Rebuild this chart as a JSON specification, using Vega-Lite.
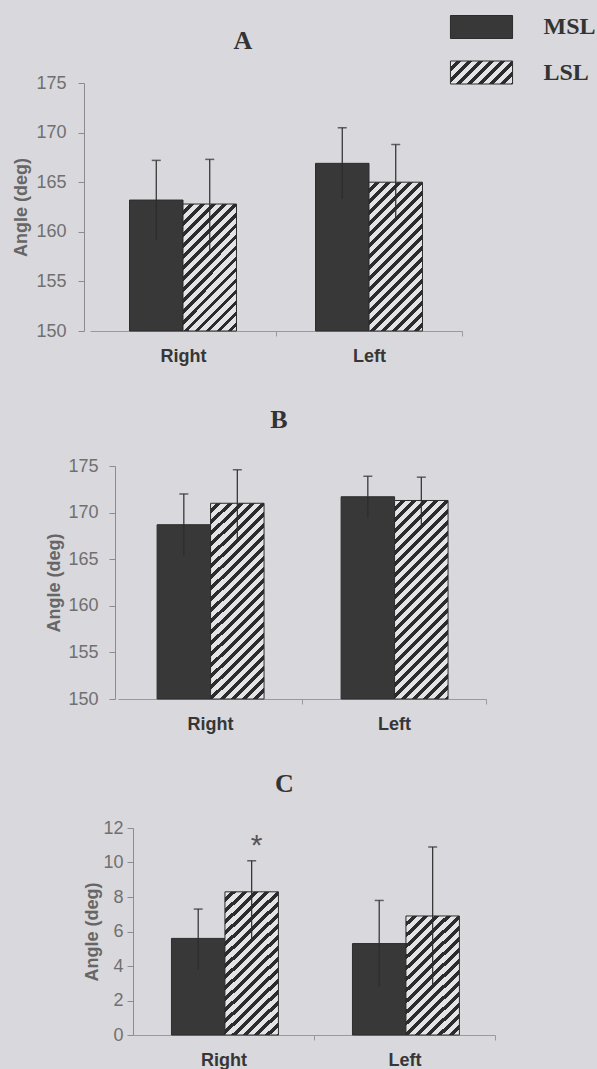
{
  "$schema": "https://vega.github.io/schema/vega-lite/v6.json",
  "background": "#d9d8dc",
  "padding": {"left": 12, "top": 15, "right": 0, "bottom": 0},
  "bounds": "flush",
  "spacing": 129,
  "params": [
    {"name": "hatchLegend", "value": {"gradient": "linear", "x1": 0, "y1": 0, "x2": 1.2462, "y2": 0.4616, "stops": [
      {"offset": 0, "color": "#e4e3e7"}, {"offset": 0.06875, "color": "#e4e3e7"}, {"offset": 0.06875, "color": "#2c2c2c"}, {"offset": 0.125, "color": "#2c2c2c"},
      {"offset": 0.125, "color": "#e4e3e7"}, {"offset": 0.19375, "color": "#e4e3e7"}, {"offset": 0.19375, "color": "#2c2c2c"}, {"offset": 0.25, "color": "#2c2c2c"},
      {"offset": 0.25, "color": "#e4e3e7"}, {"offset": 0.31875, "color": "#e4e3e7"}, {"offset": 0.31875, "color": "#2c2c2c"}, {"offset": 0.375, "color": "#2c2c2c"},
      {"offset": 0.375, "color": "#e4e3e7"}, {"offset": 0.44375, "color": "#e4e3e7"}, {"offset": 0.44375, "color": "#2c2c2c"}, {"offset": 0.5, "color": "#2c2c2c"},
      {"offset": 0.5, "color": "#e4e3e7"}, {"offset": 0.56875, "color": "#e4e3e7"}, {"offset": 0.56875, "color": "#2c2c2c"}, {"offset": 0.625, "color": "#2c2c2c"},
      {"offset": 0.625, "color": "#e4e3e7"}, {"offset": 0.69375, "color": "#e4e3e7"}, {"offset": 0.69375, "color": "#2c2c2c"}, {"offset": 0.75, "color": "#2c2c2c"},
      {"offset": 0.75, "color": "#e4e3e7"}, {"offset": 0.81875, "color": "#e4e3e7"}, {"offset": 0.81875, "color": "#2c2c2c"}, {"offset": 0.875, "color": "#2c2c2c"},
      {"offset": 0.875, "color": "#e4e3e7"}, {"offset": 0.94375, "color": "#e4e3e7"}, {"offset": 0.94375, "color": "#2c2c2c"}, {"offset": 1, "color": "#2c2c2c"}
    ]}}
  ],
  "config": {
    "view": {"stroke": null},
    "axis": {"grid": false},
    "axisX": {"labelFont": "Liberation Sans", "labelFontSize": 18, "labelFontWeight": "bold", "labelColor": "#363636", "labelAngle": 0, "domainColor": "#9a9a9a", "tickColor": "#9a9a9a", "tickSize": 5, "labelPadding": 11},
    "axisY": {"labelFont": "Liberation Sans", "labelFontSize": 18, "labelColor": "#707070", "titleFont": "Liberation Sans", "titleFontSize": 18, "titleFontWeight": "bold", "titleColor": "#666666", "domainColor": "#8c8c8c", "tickColor": "#8c8c8c", "tickSize": 6, "labelOverlap": false}
  },
  "resolve": {"scale": {"fill": "independent"}, "legend": {"fill": "independent"}},
  "data": {"values": [
    {"panel": "A", "id": "A-R-MSL", "side": "Right", "group": "MSL", "mean": 163.2, "lo": 159.2, "hi": 167.2},
    {"panel": "A", "id": "A-R-LSL", "side": "Right", "group": "LSL", "mean": 162.8, "lo": 157.9, "hi": 167.3},
    {"panel": "A", "id": "A-L-MSL", "side": "Left", "group": "MSL", "mean": 166.9, "lo": 163.3, "hi": 170.5},
    {"panel": "A", "id": "A-L-LSL", "side": "Left", "group": "LSL", "mean": 165.0, "lo": 161.1, "hi": 168.8},
    {"panel": "B", "id": "B-R-MSL", "side": "Right", "group": "MSL", "mean": 168.7, "lo": 165.4, "hi": 172.0},
    {"panel": "B", "id": "B-R-LSL", "side": "Right", "group": "LSL", "mean": 171.0, "lo": 166.9, "hi": 174.6},
    {"panel": "B", "id": "B-L-MSL", "side": "Left", "group": "MSL", "mean": 171.7, "lo": 169.5, "hi": 173.9},
    {"panel": "B", "id": "B-L-LSL", "side": "Left", "group": "LSL", "mean": 171.3, "lo": 168.7, "hi": 173.8},
    {"panel": "C", "id": "C-R-MSL", "side": "Right", "group": "MSL", "mean": 5.6, "lo": 3.8, "hi": 7.3},
    {"panel": "C", "id": "C-R-LSL", "side": "Right", "group": "LSL", "mean": 8.3, "lo": 5.6, "hi": 10.1, "note": "*"},
    {"panel": "C", "id": "C-L-MSL", "side": "Left", "group": "MSL", "mean": 5.3, "lo": 2.8, "hi": 7.8},
    {"panel": "C", "id": "C-L-LSL", "side": "Left", "group": "LSL", "mean": 6.9, "lo": 2.8, "hi": 10.9}
  ]},
  "vconcat": [
    {
      "transform": [{"filter": "datum.panel === 'A'"}],
      "width": 378,
      "height": 254,
      "title": {"text": "A", "font": "Liberation Serif", "fontSize": 26, "fontWeight": "bold", "color": "#333333", "anchor": "middle", "frame": "group", "offset": -60, "dx": -30, "baseline": "alphabetic"},
      "encoding": {
        "x": {"field": "side", "type": "nominal", "sort": ["Right", "Left"], "scale": {"range": [6, 378], "paddingInner": 0.425, "paddingOuter": 0.2125}, "axis": {"title": null, "tickOffset": 93, "labelOffset": -93}},
        "xOffset": {"field": "group", "type": "nominal", "sort": ["MSL", "LSL"], "scale": {"paddingInner": 0, "paddingOuter": 0}}
      },
      "layer": [
        {
          "mark": {"type": "bar", "stroke": "#2c2c2c", "strokeWidth": 1},
          "encoding": {
            "y": {"field": "mean", "type": "quantitative", "title": "Angle (deg)", "scale": {"domain": [150, 175], "range": [254, 6], "nice": false, "zero": false}, "axis": {"values": [150, 155, 160, 165, 170, 175], "tickCount": 6, "labelPadding": 12, "titlePadding": 5, "offset": 0}},
            "y2": {"datum": 150},
            "fill": {
              "field": "group", "type": "nominal",
              "scale": {"domain": ["MSL", "LSL"], "range": ["#383838", {"expr": "hatchLegend"}]},
              "legend": {"orient": "none", "legendX": 385.5, "legendY": -62, "title": null, "padding": 0, "symbolType": "M-2.7,-1H2.7V1H-2.7Z", "symbolSize": 529, "symbolStrokeColor": "#2c2c2c", "symbolStrokeWidth": 1, "symbolOpacity": 1, "labelFont": "Liberation Serif", "labelFontSize": 24, "labelFontWeight": "bold", "labelColor": "#333333", "labelOffset": 50, "rowPadding": 17.5},
              "condition": [
                {"test": "datum.id === 'A-R-LSL'", "value": {"gradient": "linear", "x1": 0, "y1": 0, "x2": 0.7437, "y2": 1.7655, "stops": [
                  {"offset": 0, "color": "#e4e3e7"}, {"offset": 0.022917, "color": "#e4e3e7"}, {"offset": 0.022917, "color": "#2c2c2c"}, {"offset": 0.041667, "color": "#2c2c2c"},
                  {"offset": 0.041667, "color": "#e4e3e7"}, {"offset": 0.064583, "color": "#e4e3e7"}, {"offset": 0.064583, "color": "#2c2c2c"}, {"offset": 0.083333, "color": "#2c2c2c"},
                  {"offset": 0.083333, "color": "#e4e3e7"}, {"offset": 0.10625, "color": "#e4e3e7"}, {"offset": 0.10625, "color": "#2c2c2c"}, {"offset": 0.125, "color": "#2c2c2c"},
                  {"offset": 0.125, "color": "#e4e3e7"}, {"offset": 0.147917, "color": "#e4e3e7"}, {"offset": 0.147917, "color": "#2c2c2c"}, {"offset": 0.166667, "color": "#2c2c2c"},
                  {"offset": 0.166667, "color": "#e4e3e7"}, {"offset": 0.189583, "color": "#e4e3e7"}, {"offset": 0.189583, "color": "#2c2c2c"}, {"offset": 0.208333, "color": "#2c2c2c"},
                  {"offset": 0.208333, "color": "#e4e3e7"}, {"offset": 0.23125, "color": "#e4e3e7"}, {"offset": 0.23125, "color": "#2c2c2c"}, {"offset": 0.25, "color": "#2c2c2c"},
                  {"offset": 0.25, "color": "#e4e3e7"}, {"offset": 0.272917, "color": "#e4e3e7"}, {"offset": 0.272917, "color": "#2c2c2c"}, {"offset": 0.291667, "color": "#2c2c2c"},
                  {"offset": 0.291667, "color": "#e4e3e7"}, {"offset": 0.314583, "color": "#e4e3e7"}, {"offset": 0.314583, "color": "#2c2c2c"}, {"offset": 0.333333, "color": "#2c2c2c"},
                  {"offset": 0.333333, "color": "#e4e3e7"}, {"offset": 0.35625, "color": "#e4e3e7"}, {"offset": 0.35625, "color": "#2c2c2c"}, {"offset": 0.375, "color": "#2c2c2c"},
                  {"offset": 0.375, "color": "#e4e3e7"}, {"offset": 0.397917, "color": "#e4e3e7"}, {"offset": 0.397917, "color": "#2c2c2c"}, {"offset": 0.416667, "color": "#2c2c2c"},
                  {"offset": 0.416667, "color": "#e4e3e7"}, {"offset": 0.439583, "color": "#e4e3e7"}, {"offset": 0.439583, "color": "#2c2c2c"}, {"offset": 0.458333, "color": "#2c2c2c"},
                  {"offset": 0.458333, "color": "#e4e3e7"}, {"offset": 0.48125, "color": "#e4e3e7"}, {"offset": 0.48125, "color": "#2c2c2c"}, {"offset": 0.5, "color": "#2c2c2c"},
                  {"offset": 0.5, "color": "#e4e3e7"}, {"offset": 0.522917, "color": "#e4e3e7"}, {"offset": 0.522917, "color": "#2c2c2c"}, {"offset": 0.541667, "color": "#2c2c2c"},
                  {"offset": 0.541667, "color": "#e4e3e7"}, {"offset": 0.564583, "color": "#e4e3e7"}, {"offset": 0.564583, "color": "#2c2c2c"}, {"offset": 0.583333, "color": "#2c2c2c"},
                  {"offset": 0.583333, "color": "#e4e3e7"}, {"offset": 0.60625, "color": "#e4e3e7"}, {"offset": 0.60625, "color": "#2c2c2c"}, {"offset": 0.625, "color": "#2c2c2c"},
                  {"offset": 0.625, "color": "#e4e3e7"}, {"offset": 0.647917, "color": "#e4e3e7"}, {"offset": 0.647917, "color": "#2c2c2c"}, {"offset": 0.666667, "color": "#2c2c2c"},
                  {"offset": 0.666667, "color": "#e4e3e7"}, {"offset": 0.689583, "color": "#e4e3e7"}, {"offset": 0.689583, "color": "#2c2c2c"}, {"offset": 0.708333, "color": "#2c2c2c"},
                  {"offset": 0.708333, "color": "#e4e3e7"}, {"offset": 0.73125, "color": "#e4e3e7"}, {"offset": 0.73125, "color": "#2c2c2c"}, {"offset": 0.75, "color": "#2c2c2c"},
                  {"offset": 0.75, "color": "#e4e3e7"}, {"offset": 0.772917, "color": "#e4e3e7"}, {"offset": 0.772917, "color": "#2c2c2c"}, {"offset": 0.791667, "color": "#2c2c2c"},
                  {"offset": 0.791667, "color": "#e4e3e7"}, {"offset": 0.814583, "color": "#e4e3e7"}, {"offset": 0.814583, "color": "#2c2c2c"}, {"offset": 0.833333, "color": "#2c2c2c"},
                  {"offset": 0.833333, "color": "#e4e3e7"}, {"offset": 0.85625, "color": "#e4e3e7"}, {"offset": 0.85625, "color": "#2c2c2c"}, {"offset": 0.875, "color": "#2c2c2c"},
                  {"offset": 0.875, "color": "#e4e3e7"}, {"offset": 0.897917, "color": "#e4e3e7"}, {"offset": 0.897917, "color": "#2c2c2c"}, {"offset": 0.916667, "color": "#2c2c2c"},
                  {"offset": 0.916667, "color": "#e4e3e7"}, {"offset": 0.939583, "color": "#e4e3e7"}, {"offset": 0.939583, "color": "#2c2c2c"}, {"offset": 0.958333, "color": "#2c2c2c"},
                  {"offset": 0.958333, "color": "#e4e3e7"}, {"offset": 0.98125, "color": "#e4e3e7"}, {"offset": 0.98125, "color": "#2c2c2c"}, {"offset": 1, "color": "#2c2c2c"}
                ]}},
                {"test": "datum.id === 'A-L-LSL'", "value": {"gradient": "linear", "x1": 0, "y1": 0, "x2": 0.5649, "y2": 1.5711, "stops": [
                  {"offset": 0, "color": "#e4e3e7"}, {"offset": 0.022917, "color": "#e4e3e7"}, {"offset": 0.022917, "color": "#2c2c2c"}, {"offset": 0.041667, "color": "#2c2c2c"},
                  {"offset": 0.041667, "color": "#e4e3e7"}, {"offset": 0.064583, "color": "#e4e3e7"}, {"offset": 0.064583, "color": "#2c2c2c"}, {"offset": 0.083333, "color": "#2c2c2c"},
                  {"offset": 0.083333, "color": "#e4e3e7"}, {"offset": 0.10625, "color": "#e4e3e7"}, {"offset": 0.10625, "color": "#2c2c2c"}, {"offset": 0.125, "color": "#2c2c2c"},
                  {"offset": 0.125, "color": "#e4e3e7"}, {"offset": 0.147917, "color": "#e4e3e7"}, {"offset": 0.147917, "color": "#2c2c2c"}, {"offset": 0.166667, "color": "#2c2c2c"},
                  {"offset": 0.166667, "color": "#e4e3e7"}, {"offset": 0.189583, "color": "#e4e3e7"}, {"offset": 0.189583, "color": "#2c2c2c"}, {"offset": 0.208333, "color": "#2c2c2c"},
                  {"offset": 0.208333, "color": "#e4e3e7"}, {"offset": 0.23125, "color": "#e4e3e7"}, {"offset": 0.23125, "color": "#2c2c2c"}, {"offset": 0.25, "color": "#2c2c2c"},
                  {"offset": 0.25, "color": "#e4e3e7"}, {"offset": 0.272917, "color": "#e4e3e7"}, {"offset": 0.272917, "color": "#2c2c2c"}, {"offset": 0.291667, "color": "#2c2c2c"},
                  {"offset": 0.291667, "color": "#e4e3e7"}, {"offset": 0.314583, "color": "#e4e3e7"}, {"offset": 0.314583, "color": "#2c2c2c"}, {"offset": 0.333333, "color": "#2c2c2c"},
                  {"offset": 0.333333, "color": "#e4e3e7"}, {"offset": 0.35625, "color": "#e4e3e7"}, {"offset": 0.35625, "color": "#2c2c2c"}, {"offset": 0.375, "color": "#2c2c2c"},
                  {"offset": 0.375, "color": "#e4e3e7"}, {"offset": 0.397917, "color": "#e4e3e7"}, {"offset": 0.397917, "color": "#2c2c2c"}, {"offset": 0.416667, "color": "#2c2c2c"},
                  {"offset": 0.416667, "color": "#e4e3e7"}, {"offset": 0.439583, "color": "#e4e3e7"}, {"offset": 0.439583, "color": "#2c2c2c"}, {"offset": 0.458333, "color": "#2c2c2c"},
                  {"offset": 0.458333, "color": "#e4e3e7"}, {"offset": 0.48125, "color": "#e4e3e7"}, {"offset": 0.48125, "color": "#2c2c2c"}, {"offset": 0.5, "color": "#2c2c2c"},
                  {"offset": 0.5, "color": "#e4e3e7"}, {"offset": 0.522917, "color": "#e4e3e7"}, {"offset": 0.522917, "color": "#2c2c2c"}, {"offset": 0.541667, "color": "#2c2c2c"},
                  {"offset": 0.541667, "color": "#e4e3e7"}, {"offset": 0.564583, "color": "#e4e3e7"}, {"offset": 0.564583, "color": "#2c2c2c"}, {"offset": 0.583333, "color": "#2c2c2c"},
                  {"offset": 0.583333, "color": "#e4e3e7"}, {"offset": 0.60625, "color": "#e4e3e7"}, {"offset": 0.60625, "color": "#2c2c2c"}, {"offset": 0.625, "color": "#2c2c2c"},
                  {"offset": 0.625, "color": "#e4e3e7"}, {"offset": 0.647917, "color": "#e4e3e7"}, {"offset": 0.647917, "color": "#2c2c2c"}, {"offset": 0.666667, "color": "#2c2c2c"},
                  {"offset": 0.666667, "color": "#e4e3e7"}, {"offset": 0.689583, "color": "#e4e3e7"}, {"offset": 0.689583, "color": "#2c2c2c"}, {"offset": 0.708333, "color": "#2c2c2c"},
                  {"offset": 0.708333, "color": "#e4e3e7"}, {"offset": 0.73125, "color": "#e4e3e7"}, {"offset": 0.73125, "color": "#2c2c2c"}, {"offset": 0.75, "color": "#2c2c2c"},
                  {"offset": 0.75, "color": "#e4e3e7"}, {"offset": 0.772917, "color": "#e4e3e7"}, {"offset": 0.772917, "color": "#2c2c2c"}, {"offset": 0.791667, "color": "#2c2c2c"},
                  {"offset": 0.791667, "color": "#e4e3e7"}, {"offset": 0.814583, "color": "#e4e3e7"}, {"offset": 0.814583, "color": "#2c2c2c"}, {"offset": 0.833333, "color": "#2c2c2c"},
                  {"offset": 0.833333, "color": "#e4e3e7"}, {"offset": 0.85625, "color": "#e4e3e7"}, {"offset": 0.85625, "color": "#2c2c2c"}, {"offset": 0.875, "color": "#2c2c2c"},
                  {"offset": 0.875, "color": "#e4e3e7"}, {"offset": 0.897917, "color": "#e4e3e7"}, {"offset": 0.897917, "color": "#2c2c2c"}, {"offset": 0.916667, "color": "#2c2c2c"},
                  {"offset": 0.916667, "color": "#e4e3e7"}, {"offset": 0.939583, "color": "#e4e3e7"}, {"offset": 0.939583, "color": "#2c2c2c"}, {"offset": 0.958333, "color": "#2c2c2c"},
                  {"offset": 0.958333, "color": "#e4e3e7"}, {"offset": 0.98125, "color": "#e4e3e7"}, {"offset": 0.98125, "color": "#2c2c2c"}, {"offset": 1, "color": "#2c2c2c"}
                ]}}
              ]
            }
          }
        },
        {
          "mark": {"type": "rule", "color": "#2c2c2c", "strokeWidth": 1.2},
          "encoding": {
            "y": {"field": "lo", "type": "quantitative", "title": "Angle (deg)"},
            "y2": {"field": "hi"}
          }
        },
        {
          "mark": {"type": "tick", "orient": "horizontal", "size": 9, "thickness": 1.5, "color": "#2c2c2c"},
          "encoding": {
            "y": {"field": "hi", "type": "quantitative", "title": "Angle (deg)"}
          }
        }
      ]
    },
    {
      "transform": [{"filter": "datum.panel === 'B'"}],
      "width": 402,
      "height": 239,
      "title": {"text": "B", "font": "Liberation Serif", "fontSize": 26, "fontWeight": "bold", "color": "#333333", "anchor": "middle", "frame": "group", "offset": 3, "dx": -6, "baseline": "alphabetic"},
      "encoding": {
        "x": {"field": "side", "type": "nominal", "sort": ["Right", "Left"], "scale": {"range": [34, 402], "paddingInner": 0.425, "paddingOuter": 0.2125}, "axis": {"title": null, "tickOffset": 92, "labelOffset": -92}},
        "xOffset": {"field": "group", "type": "nominal", "sort": ["MSL", "LSL"], "scale": {"paddingInner": 0, "paddingOuter": 0}}
      },
      "layer": [
        {
          "mark": {"type": "bar", "stroke": "#2c2c2c", "strokeWidth": 1},
          "encoding": {
            "y": {"field": "mean", "type": "quantitative", "title": "Angle (deg)", "scale": {"domain": [150, 175], "range": [239, 6], "nice": false, "zero": false}, "axis": {"values": [150, 155, 160, 165, 170, 175], "tickCount": 6, "labelPadding": 11, "titlePadding": 4, "offset": -31}},
            "y2": {"datum": 150},
            "fill": {
              "field": "group", "type": "nominal",
              "scale": {"domain": ["MSL", "LSL"], "range": ["#383838", "#e4e3e7"]},
              "legend": null,
              "condition": [
                {"test": "datum.id === 'B-R-LSL'", "value": {"gradient": "linear", "x1": 0, "y1": 0, "x2": 0.3398, "y2": 1.2572, "stops": [
                  {"offset": 0, "color": "#e4e3e7"}, {"offset": 0.022917, "color": "#e4e3e7"}, {"offset": 0.022917, "color": "#2c2c2c"}, {"offset": 0.041667, "color": "#2c2c2c"},
                  {"offset": 0.041667, "color": "#e4e3e7"}, {"offset": 0.064583, "color": "#e4e3e7"}, {"offset": 0.064583, "color": "#2c2c2c"}, {"offset": 0.083333, "color": "#2c2c2c"},
                  {"offset": 0.083333, "color": "#e4e3e7"}, {"offset": 0.10625, "color": "#e4e3e7"}, {"offset": 0.10625, "color": "#2c2c2c"}, {"offset": 0.125, "color": "#2c2c2c"},
                  {"offset": 0.125, "color": "#e4e3e7"}, {"offset": 0.147917, "color": "#e4e3e7"}, {"offset": 0.147917, "color": "#2c2c2c"}, {"offset": 0.166667, "color": "#2c2c2c"},
                  {"offset": 0.166667, "color": "#e4e3e7"}, {"offset": 0.189583, "color": "#e4e3e7"}, {"offset": 0.189583, "color": "#2c2c2c"}, {"offset": 0.208333, "color": "#2c2c2c"},
                  {"offset": 0.208333, "color": "#e4e3e7"}, {"offset": 0.23125, "color": "#e4e3e7"}, {"offset": 0.23125, "color": "#2c2c2c"}, {"offset": 0.25, "color": "#2c2c2c"},
                  {"offset": 0.25, "color": "#e4e3e7"}, {"offset": 0.272917, "color": "#e4e3e7"}, {"offset": 0.272917, "color": "#2c2c2c"}, {"offset": 0.291667, "color": "#2c2c2c"},
                  {"offset": 0.291667, "color": "#e4e3e7"}, {"offset": 0.314583, "color": "#e4e3e7"}, {"offset": 0.314583, "color": "#2c2c2c"}, {"offset": 0.333333, "color": "#2c2c2c"},
                  {"offset": 0.333333, "color": "#e4e3e7"}, {"offset": 0.35625, "color": "#e4e3e7"}, {"offset": 0.35625, "color": "#2c2c2c"}, {"offset": 0.375, "color": "#2c2c2c"},
                  {"offset": 0.375, "color": "#e4e3e7"}, {"offset": 0.397917, "color": "#e4e3e7"}, {"offset": 0.397917, "color": "#2c2c2c"}, {"offset": 0.416667, "color": "#2c2c2c"},
                  {"offset": 0.416667, "color": "#e4e3e7"}, {"offset": 0.439583, "color": "#e4e3e7"}, {"offset": 0.439583, "color": "#2c2c2c"}, {"offset": 0.458333, "color": "#2c2c2c"},
                  {"offset": 0.458333, "color": "#e4e3e7"}, {"offset": 0.48125, "color": "#e4e3e7"}, {"offset": 0.48125, "color": "#2c2c2c"}, {"offset": 0.5, "color": "#2c2c2c"},
                  {"offset": 0.5, "color": "#e4e3e7"}, {"offset": 0.522917, "color": "#e4e3e7"}, {"offset": 0.522917, "color": "#2c2c2c"}, {"offset": 0.541667, "color": "#2c2c2c"},
                  {"offset": 0.541667, "color": "#e4e3e7"}, {"offset": 0.564583, "color": "#e4e3e7"}, {"offset": 0.564583, "color": "#2c2c2c"}, {"offset": 0.583333, "color": "#2c2c2c"},
                  {"offset": 0.583333, "color": "#e4e3e7"}, {"offset": 0.60625, "color": "#e4e3e7"}, {"offset": 0.60625, "color": "#2c2c2c"}, {"offset": 0.625, "color": "#2c2c2c"},
                  {"offset": 0.625, "color": "#e4e3e7"}, {"offset": 0.647917, "color": "#e4e3e7"}, {"offset": 0.647917, "color": "#2c2c2c"}, {"offset": 0.666667, "color": "#2c2c2c"},
                  {"offset": 0.666667, "color": "#e4e3e7"}, {"offset": 0.689583, "color": "#e4e3e7"}, {"offset": 0.689583, "color": "#2c2c2c"}, {"offset": 0.708333, "color": "#2c2c2c"},
                  {"offset": 0.708333, "color": "#e4e3e7"}, {"offset": 0.73125, "color": "#e4e3e7"}, {"offset": 0.73125, "color": "#2c2c2c"}, {"offset": 0.75, "color": "#2c2c2c"},
                  {"offset": 0.75, "color": "#e4e3e7"}, {"offset": 0.772917, "color": "#e4e3e7"}, {"offset": 0.772917, "color": "#2c2c2c"}, {"offset": 0.791667, "color": "#2c2c2c"},
                  {"offset": 0.791667, "color": "#e4e3e7"}, {"offset": 0.814583, "color": "#e4e3e7"}, {"offset": 0.814583, "color": "#2c2c2c"}, {"offset": 0.833333, "color": "#2c2c2c"},
                  {"offset": 0.833333, "color": "#e4e3e7"}, {"offset": 0.85625, "color": "#e4e3e7"}, {"offset": 0.85625, "color": "#2c2c2c"}, {"offset": 0.875, "color": "#2c2c2c"},
                  {"offset": 0.875, "color": "#e4e3e7"}, {"offset": 0.897917, "color": "#e4e3e7"}, {"offset": 0.897917, "color": "#2c2c2c"}, {"offset": 0.916667, "color": "#2c2c2c"},
                  {"offset": 0.916667, "color": "#e4e3e7"}, {"offset": 0.939583, "color": "#e4e3e7"}, {"offset": 0.939583, "color": "#2c2c2c"}, {"offset": 0.958333, "color": "#2c2c2c"},
                  {"offset": 0.958333, "color": "#e4e3e7"}, {"offset": 0.98125, "color": "#e4e3e7"}, {"offset": 0.98125, "color": "#2c2c2c"}, {"offset": 1, "color": "#2c2c2c"}
                ]}},
                {"test": "datum.id === 'B-L-LSL'", "value": {"gradient": "linear", "x1": 0, "y1": 0, "x2": 0.3309, "y2": 1.2418, "stops": [
                  {"offset": 0, "color": "#e4e3e7"}, {"offset": 0.022917, "color": "#e4e3e7"}, {"offset": 0.022917, "color": "#2c2c2c"}, {"offset": 0.041667, "color": "#2c2c2c"},
                  {"offset": 0.041667, "color": "#e4e3e7"}, {"offset": 0.064583, "color": "#e4e3e7"}, {"offset": 0.064583, "color": "#2c2c2c"}, {"offset": 0.083333, "color": "#2c2c2c"},
                  {"offset": 0.083333, "color": "#e4e3e7"}, {"offset": 0.10625, "color": "#e4e3e7"}, {"offset": 0.10625, "color": "#2c2c2c"}, {"offset": 0.125, "color": "#2c2c2c"},
                  {"offset": 0.125, "color": "#e4e3e7"}, {"offset": 0.147917, "color": "#e4e3e7"}, {"offset": 0.147917, "color": "#2c2c2c"}, {"offset": 0.166667, "color": "#2c2c2c"},
                  {"offset": 0.166667, "color": "#e4e3e7"}, {"offset": 0.189583, "color": "#e4e3e7"}, {"offset": 0.189583, "color": "#2c2c2c"}, {"offset": 0.208333, "color": "#2c2c2c"},
                  {"offset": 0.208333, "color": "#e4e3e7"}, {"offset": 0.23125, "color": "#e4e3e7"}, {"offset": 0.23125, "color": "#2c2c2c"}, {"offset": 0.25, "color": "#2c2c2c"},
                  {"offset": 0.25, "color": "#e4e3e7"}, {"offset": 0.272917, "color": "#e4e3e7"}, {"offset": 0.272917, "color": "#2c2c2c"}, {"offset": 0.291667, "color": "#2c2c2c"},
                  {"offset": 0.291667, "color": "#e4e3e7"}, {"offset": 0.314583, "color": "#e4e3e7"}, {"offset": 0.314583, "color": "#2c2c2c"}, {"offset": 0.333333, "color": "#2c2c2c"},
                  {"offset": 0.333333, "color": "#e4e3e7"}, {"offset": 0.35625, "color": "#e4e3e7"}, {"offset": 0.35625, "color": "#2c2c2c"}, {"offset": 0.375, "color": "#2c2c2c"},
                  {"offset": 0.375, "color": "#e4e3e7"}, {"offset": 0.397917, "color": "#e4e3e7"}, {"offset": 0.397917, "color": "#2c2c2c"}, {"offset": 0.416667, "color": "#2c2c2c"},
                  {"offset": 0.416667, "color": "#e4e3e7"}, {"offset": 0.439583, "color": "#e4e3e7"}, {"offset": 0.439583, "color": "#2c2c2c"}, {"offset": 0.458333, "color": "#2c2c2c"},
                  {"offset": 0.458333, "color": "#e4e3e7"}, {"offset": 0.48125, "color": "#e4e3e7"}, {"offset": 0.48125, "color": "#2c2c2c"}, {"offset": 0.5, "color": "#2c2c2c"},
                  {"offset": 0.5, "color": "#e4e3e7"}, {"offset": 0.522917, "color": "#e4e3e7"}, {"offset": 0.522917, "color": "#2c2c2c"}, {"offset": 0.541667, "color": "#2c2c2c"},
                  {"offset": 0.541667, "color": "#e4e3e7"}, {"offset": 0.564583, "color": "#e4e3e7"}, {"offset": 0.564583, "color": "#2c2c2c"}, {"offset": 0.583333, "color": "#2c2c2c"},
                  {"offset": 0.583333, "color": "#e4e3e7"}, {"offset": 0.60625, "color": "#e4e3e7"}, {"offset": 0.60625, "color": "#2c2c2c"}, {"offset": 0.625, "color": "#2c2c2c"},
                  {"offset": 0.625, "color": "#e4e3e7"}, {"offset": 0.647917, "color": "#e4e3e7"}, {"offset": 0.647917, "color": "#2c2c2c"}, {"offset": 0.666667, "color": "#2c2c2c"},
                  {"offset": 0.666667, "color": "#e4e3e7"}, {"offset": 0.689583, "color": "#e4e3e7"}, {"offset": 0.689583, "color": "#2c2c2c"}, {"offset": 0.708333, "color": "#2c2c2c"},
                  {"offset": 0.708333, "color": "#e4e3e7"}, {"offset": 0.73125, "color": "#e4e3e7"}, {"offset": 0.73125, "color": "#2c2c2c"}, {"offset": 0.75, "color": "#2c2c2c"},
                  {"offset": 0.75, "color": "#e4e3e7"}, {"offset": 0.772917, "color": "#e4e3e7"}, {"offset": 0.772917, "color": "#2c2c2c"}, {"offset": 0.791667, "color": "#2c2c2c"},
                  {"offset": 0.791667, "color": "#e4e3e7"}, {"offset": 0.814583, "color": "#e4e3e7"}, {"offset": 0.814583, "color": "#2c2c2c"}, {"offset": 0.833333, "color": "#2c2c2c"},
                  {"offset": 0.833333, "color": "#e4e3e7"}, {"offset": 0.85625, "color": "#e4e3e7"}, {"offset": 0.85625, "color": "#2c2c2c"}, {"offset": 0.875, "color": "#2c2c2c"},
                  {"offset": 0.875, "color": "#e4e3e7"}, {"offset": 0.897917, "color": "#e4e3e7"}, {"offset": 0.897917, "color": "#2c2c2c"}, {"offset": 0.916667, "color": "#2c2c2c"},
                  {"offset": 0.916667, "color": "#e4e3e7"}, {"offset": 0.939583, "color": "#e4e3e7"}, {"offset": 0.939583, "color": "#2c2c2c"}, {"offset": 0.958333, "color": "#2c2c2c"},
                  {"offset": 0.958333, "color": "#e4e3e7"}, {"offset": 0.98125, "color": "#e4e3e7"}, {"offset": 0.98125, "color": "#2c2c2c"}, {"offset": 1, "color": "#2c2c2c"}
                ]}}
              ]
            }
          }
        },
        {
          "mark": {"type": "rule", "color": "#2c2c2c", "strokeWidth": 1.2},
          "encoding": {
            "y": {"field": "lo", "type": "quantitative", "title": "Angle (deg)"},
            "y2": {"field": "hi"}
          }
        },
        {
          "mark": {"type": "tick", "orient": "horizontal", "size": 9, "thickness": 1.5, "color": "#2c2c2c"},
          "encoding": {
            "y": {"field": "hi", "type": "quantitative", "title": "Angle (deg)"}
          }
        }
      ]
    },
    {
      "transform": [{"filter": "datum.panel === 'C'"}],
      "width": 411,
      "height": 207,
      "title": {"text": "C", "font": "Liberation Serif", "fontSize": 26, "fontWeight": "bold", "color": "#333333", "anchor": "middle", "frame": "group", "offset": 1, "dx": -5, "baseline": "alphabetic"},
      "encoding": {
        "x": {"field": "side", "type": "nominal", "sort": ["Right", "Left"], "scale": {"range": [49, 411], "paddingInner": 0.425, "paddingOuter": 0.2125}, "axis": {"title": null, "tickOffset": 90.5, "labelOffset": -90.5}},
        "xOffset": {"field": "group", "type": "nominal", "sort": ["MSL", "LSL"], "scale": {"paddingInner": 0, "paddingOuter": 0}}
      },
      "layer": [
        {
          "mark": {"type": "bar", "stroke": "#2c2c2c", "strokeWidth": 1},
          "encoding": {
            "y": {"field": "mean", "type": "quantitative", "title": "Angle (deg)", "scale": {"domain": [0, 12], "nice": false}, "axis": {"values": [0, 2, 4, 6, 8, 10, 12], "tickCount": 7, "labelPadding": 4, "titlePadding": 1, "offset": -49}},
            "y2": {"datum": 0},
            "fill": {
              "field": "group", "type": "nominal",
              "scale": {"domain": ["MSL", "LSL"], "range": ["#383838", "#e4e3e7"]},
              "legend": null,
              "condition": [
                {"test": "datum.id === 'C-R-LSL'", "value": {"gradient": "linear", "x1": 0, "y1": 0, "x2": 0.5915, "y2": 1.6288, "stops": [
                  {"offset": 0, "color": "#e4e3e7"}, {"offset": 0.022917, "color": "#e4e3e7"}, {"offset": 0.022917, "color": "#2c2c2c"}, {"offset": 0.041667, "color": "#2c2c2c"},
                  {"offset": 0.041667, "color": "#e4e3e7"}, {"offset": 0.064583, "color": "#e4e3e7"}, {"offset": 0.064583, "color": "#2c2c2c"}, {"offset": 0.083333, "color": "#2c2c2c"},
                  {"offset": 0.083333, "color": "#e4e3e7"}, {"offset": 0.10625, "color": "#e4e3e7"}, {"offset": 0.10625, "color": "#2c2c2c"}, {"offset": 0.125, "color": "#2c2c2c"},
                  {"offset": 0.125, "color": "#e4e3e7"}, {"offset": 0.147917, "color": "#e4e3e7"}, {"offset": 0.147917, "color": "#2c2c2c"}, {"offset": 0.166667, "color": "#2c2c2c"},
                  {"offset": 0.166667, "color": "#e4e3e7"}, {"offset": 0.189583, "color": "#e4e3e7"}, {"offset": 0.189583, "color": "#2c2c2c"}, {"offset": 0.208333, "color": "#2c2c2c"},
                  {"offset": 0.208333, "color": "#e4e3e7"}, {"offset": 0.23125, "color": "#e4e3e7"}, {"offset": 0.23125, "color": "#2c2c2c"}, {"offset": 0.25, "color": "#2c2c2c"},
                  {"offset": 0.25, "color": "#e4e3e7"}, {"offset": 0.272917, "color": "#e4e3e7"}, {"offset": 0.272917, "color": "#2c2c2c"}, {"offset": 0.291667, "color": "#2c2c2c"},
                  {"offset": 0.291667, "color": "#e4e3e7"}, {"offset": 0.314583, "color": "#e4e3e7"}, {"offset": 0.314583, "color": "#2c2c2c"}, {"offset": 0.333333, "color": "#2c2c2c"},
                  {"offset": 0.333333, "color": "#e4e3e7"}, {"offset": 0.35625, "color": "#e4e3e7"}, {"offset": 0.35625, "color": "#2c2c2c"}, {"offset": 0.375, "color": "#2c2c2c"},
                  {"offset": 0.375, "color": "#e4e3e7"}, {"offset": 0.397917, "color": "#e4e3e7"}, {"offset": 0.397917, "color": "#2c2c2c"}, {"offset": 0.416667, "color": "#2c2c2c"},
                  {"offset": 0.416667, "color": "#e4e3e7"}, {"offset": 0.439583, "color": "#e4e3e7"}, {"offset": 0.439583, "color": "#2c2c2c"}, {"offset": 0.458333, "color": "#2c2c2c"},
                  {"offset": 0.458333, "color": "#e4e3e7"}, {"offset": 0.48125, "color": "#e4e3e7"}, {"offset": 0.48125, "color": "#2c2c2c"}, {"offset": 0.5, "color": "#2c2c2c"},
                  {"offset": 0.5, "color": "#e4e3e7"}, {"offset": 0.522917, "color": "#e4e3e7"}, {"offset": 0.522917, "color": "#2c2c2c"}, {"offset": 0.541667, "color": "#2c2c2c"},
                  {"offset": 0.541667, "color": "#e4e3e7"}, {"offset": 0.564583, "color": "#e4e3e7"}, {"offset": 0.564583, "color": "#2c2c2c"}, {"offset": 0.583333, "color": "#2c2c2c"},
                  {"offset": 0.583333, "color": "#e4e3e7"}, {"offset": 0.60625, "color": "#e4e3e7"}, {"offset": 0.60625, "color": "#2c2c2c"}, {"offset": 0.625, "color": "#2c2c2c"},
                  {"offset": 0.625, "color": "#e4e3e7"}, {"offset": 0.647917, "color": "#e4e3e7"}, {"offset": 0.647917, "color": "#2c2c2c"}, {"offset": 0.666667, "color": "#2c2c2c"},
                  {"offset": 0.666667, "color": "#e4e3e7"}, {"offset": 0.689583, "color": "#e4e3e7"}, {"offset": 0.689583, "color": "#2c2c2c"}, {"offset": 0.708333, "color": "#2c2c2c"},
                  {"offset": 0.708333, "color": "#e4e3e7"}, {"offset": 0.73125, "color": "#e4e3e7"}, {"offset": 0.73125, "color": "#2c2c2c"}, {"offset": 0.75, "color": "#2c2c2c"},
                  {"offset": 0.75, "color": "#e4e3e7"}, {"offset": 0.772917, "color": "#e4e3e7"}, {"offset": 0.772917, "color": "#2c2c2c"}, {"offset": 0.791667, "color": "#2c2c2c"},
                  {"offset": 0.791667, "color": "#e4e3e7"}, {"offset": 0.814583, "color": "#e4e3e7"}, {"offset": 0.814583, "color": "#2c2c2c"}, {"offset": 0.833333, "color": "#2c2c2c"},
                  {"offset": 0.833333, "color": "#e4e3e7"}, {"offset": 0.85625, "color": "#e4e3e7"}, {"offset": 0.85625, "color": "#2c2c2c"}, {"offset": 0.875, "color": "#2c2c2c"},
                  {"offset": 0.875, "color": "#e4e3e7"}, {"offset": 0.897917, "color": "#e4e3e7"}, {"offset": 0.897917, "color": "#2c2c2c"}, {"offset": 0.916667, "color": "#2c2c2c"},
                  {"offset": 0.916667, "color": "#e4e3e7"}, {"offset": 0.939583, "color": "#e4e3e7"}, {"offset": 0.939583, "color": "#2c2c2c"}, {"offset": 0.958333, "color": "#2c2c2c"},
                  {"offset": 0.958333, "color": "#e4e3e7"}, {"offset": 0.98125, "color": "#e4e3e7"}, {"offset": 0.98125, "color": "#2c2c2c"}, {"offset": 1, "color": "#2c2c2c"}
                ]}},
                {"test": "datum.id === 'C-L-LSL'", "value": {"gradient": "linear", "x1": 0, "y1": 0, "x2": 0.8140, "y2": 1.8628, "stops": [
                  {"offset": 0, "color": "#e4e3e7"}, {"offset": 0.022917, "color": "#e4e3e7"}, {"offset": 0.022917, "color": "#2c2c2c"}, {"offset": 0.041667, "color": "#2c2c2c"},
                  {"offset": 0.041667, "color": "#e4e3e7"}, {"offset": 0.064583, "color": "#e4e3e7"}, {"offset": 0.064583, "color": "#2c2c2c"}, {"offset": 0.083333, "color": "#2c2c2c"},
                  {"offset": 0.083333, "color": "#e4e3e7"}, {"offset": 0.10625, "color": "#e4e3e7"}, {"offset": 0.10625, "color": "#2c2c2c"}, {"offset": 0.125, "color": "#2c2c2c"},
                  {"offset": 0.125, "color": "#e4e3e7"}, {"offset": 0.147917, "color": "#e4e3e7"}, {"offset": 0.147917, "color": "#2c2c2c"}, {"offset": 0.166667, "color": "#2c2c2c"},
                  {"offset": 0.166667, "color": "#e4e3e7"}, {"offset": 0.189583, "color": "#e4e3e7"}, {"offset": 0.189583, "color": "#2c2c2c"}, {"offset": 0.208333, "color": "#2c2c2c"},
                  {"offset": 0.208333, "color": "#e4e3e7"}, {"offset": 0.23125, "color": "#e4e3e7"}, {"offset": 0.23125, "color": "#2c2c2c"}, {"offset": 0.25, "color": "#2c2c2c"},
                  {"offset": 0.25, "color": "#e4e3e7"}, {"offset": 0.272917, "color": "#e4e3e7"}, {"offset": 0.272917, "color": "#2c2c2c"}, {"offset": 0.291667, "color": "#2c2c2c"},
                  {"offset": 0.291667, "color": "#e4e3e7"}, {"offset": 0.314583, "color": "#e4e3e7"}, {"offset": 0.314583, "color": "#2c2c2c"}, {"offset": 0.333333, "color": "#2c2c2c"},
                  {"offset": 0.333333, "color": "#e4e3e7"}, {"offset": 0.35625, "color": "#e4e3e7"}, {"offset": 0.35625, "color": "#2c2c2c"}, {"offset": 0.375, "color": "#2c2c2c"},
                  {"offset": 0.375, "color": "#e4e3e7"}, {"offset": 0.397917, "color": "#e4e3e7"}, {"offset": 0.397917, "color": "#2c2c2c"}, {"offset": 0.416667, "color": "#2c2c2c"},
                  {"offset": 0.416667, "color": "#e4e3e7"}, {"offset": 0.439583, "color": "#e4e3e7"}, {"offset": 0.439583, "color": "#2c2c2c"}, {"offset": 0.458333, "color": "#2c2c2c"},
                  {"offset": 0.458333, "color": "#e4e3e7"}, {"offset": 0.48125, "color": "#e4e3e7"}, {"offset": 0.48125, "color": "#2c2c2c"}, {"offset": 0.5, "color": "#2c2c2c"},
                  {"offset": 0.5, "color": "#e4e3e7"}, {"offset": 0.522917, "color": "#e4e3e7"}, {"offset": 0.522917, "color": "#2c2c2c"}, {"offset": 0.541667, "color": "#2c2c2c"},
                  {"offset": 0.541667, "color": "#e4e3e7"}, {"offset": 0.564583, "color": "#e4e3e7"}, {"offset": 0.564583, "color": "#2c2c2c"}, {"offset": 0.583333, "color": "#2c2c2c"},
                  {"offset": 0.583333, "color": "#e4e3e7"}, {"offset": 0.60625, "color": "#e4e3e7"}, {"offset": 0.60625, "color": "#2c2c2c"}, {"offset": 0.625, "color": "#2c2c2c"},
                  {"offset": 0.625, "color": "#e4e3e7"}, {"offset": 0.647917, "color": "#e4e3e7"}, {"offset": 0.647917, "color": "#2c2c2c"}, {"offset": 0.666667, "color": "#2c2c2c"},
                  {"offset": 0.666667, "color": "#e4e3e7"}, {"offset": 0.689583, "color": "#e4e3e7"}, {"offset": 0.689583, "color": "#2c2c2c"}, {"offset": 0.708333, "color": "#2c2c2c"},
                  {"offset": 0.708333, "color": "#e4e3e7"}, {"offset": 0.73125, "color": "#e4e3e7"}, {"offset": 0.73125, "color": "#2c2c2c"}, {"offset": 0.75, "color": "#2c2c2c"},
                  {"offset": 0.75, "color": "#e4e3e7"}, {"offset": 0.772917, "color": "#e4e3e7"}, {"offset": 0.772917, "color": "#2c2c2c"}, {"offset": 0.791667, "color": "#2c2c2c"},
                  {"offset": 0.791667, "color": "#e4e3e7"}, {"offset": 0.814583, "color": "#e4e3e7"}, {"offset": 0.814583, "color": "#2c2c2c"}, {"offset": 0.833333, "color": "#2c2c2c"},
                  {"offset": 0.833333, "color": "#e4e3e7"}, {"offset": 0.85625, "color": "#e4e3e7"}, {"offset": 0.85625, "color": "#2c2c2c"}, {"offset": 0.875, "color": "#2c2c2c"},
                  {"offset": 0.875, "color": "#e4e3e7"}, {"offset": 0.897917, "color": "#e4e3e7"}, {"offset": 0.897917, "color": "#2c2c2c"}, {"offset": 0.916667, "color": "#2c2c2c"},
                  {"offset": 0.916667, "color": "#e4e3e7"}, {"offset": 0.939583, "color": "#e4e3e7"}, {"offset": 0.939583, "color": "#2c2c2c"}, {"offset": 0.958333, "color": "#2c2c2c"},
                  {"offset": 0.958333, "color": "#e4e3e7"}, {"offset": 0.98125, "color": "#e4e3e7"}, {"offset": 0.98125, "color": "#2c2c2c"}, {"offset": 1, "color": "#2c2c2c"}
                ]}}
              ]
            }
          }
        },
        {
          "mark": {"type": "rule", "color": "#2c2c2c", "strokeWidth": 1.2},
          "encoding": {
            "y": {"field": "lo", "type": "quantitative", "title": "Angle (deg)"},
            "y2": {"field": "hi"}
          }
        },
        {
          "mark": {"type": "tick", "orient": "horizontal", "size": 9, "thickness": 1.5, "color": "#2c2c2c"},
          "encoding": {
            "y": {"field": "hi", "type": "quantitative", "title": "Angle (deg)"}
          }
        },
        {
          "transform": [{"filter": "datum.note"}],
          "mark": {"type": "text", "font": "Liberation Sans", "fontSize": 30, "color": "#555555", "baseline": "alphabetic", "dx": 5, "dy": -6},
          "encoding": {
            "y": {"field": "hi", "type": "quantitative", "title": "Angle (deg)"},
            "text": {"field": "note"}
          }
        }
      ]
    }
  ]
}
